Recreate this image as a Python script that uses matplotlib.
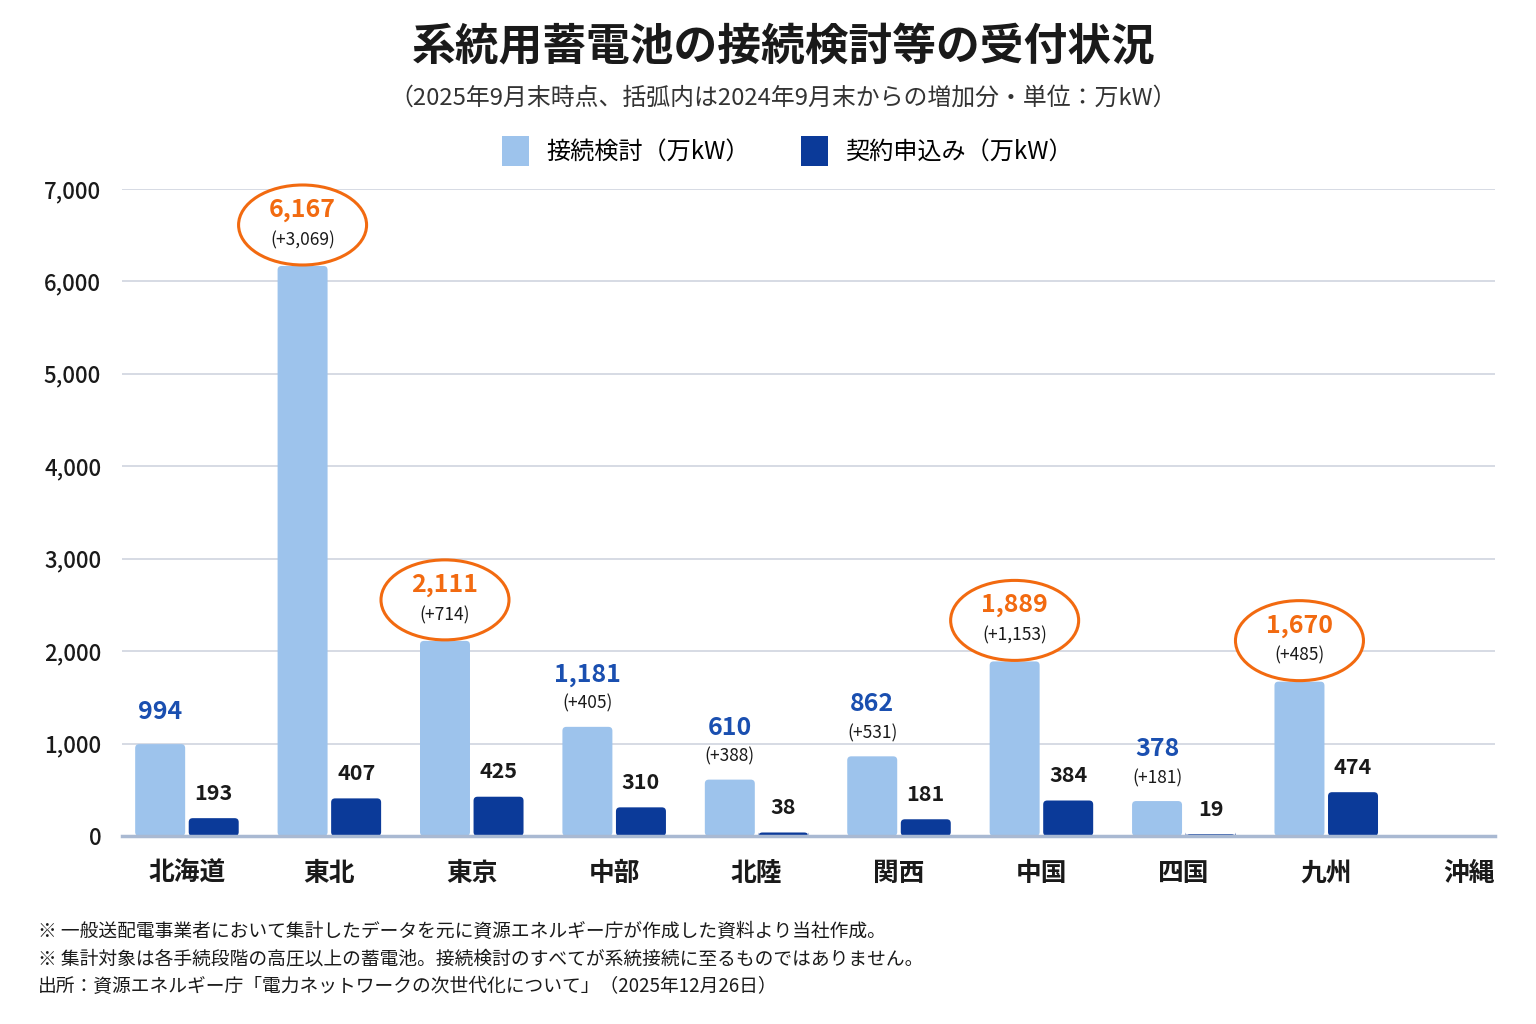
import matplotlib
matplotlib.use("Agg")
import matplotlib.pyplot as plt
from matplotlib.patches import Ellipse, Patch, FancyBboxPatch
from matplotlib.transforms import ScaledTranslation
from matplotlib.ticker import FuncFormatter, MultipleLocator
import numpy as np

plt.rcParams['font.family'] = ['Noto Sans CJK JP', 'DejaVu Sans']

# データ（万kW）
regions = ['北海道', '東北', '東京', '中部', '北陸', '関西', '中国', '四国', '九州', '沖縄']
kentou = [994, 6167, 2111, 1181, 610, 862, 1889, 378, 1670, 0]
moushikomi = [193, 407, 425, 310, 38, 181, 384, 19, 474, 0]
increase = [None, 3069, 714, 405, 388, 531, 1153, 181, 485, None]
highlight = ['東北', '東京', '中国', '九州']

LIGHT = '#9dc3ec'
DARK = '#0b3a99'
ORANGE = '#f26a10'
BLUE_TXT = '#1a4fb0'
INK = '#1a1a1a'

fig = plt.figure(figsize=(15.36, 10.24), dpi=100)
ax = fig.add_axes([122 / 1536, 1 - 836 / 1024, (1495 - 122) / 1536, (836 - 189) / 1024])

XMIN, XMAX, YMAX = -0.456, 9.185, 7000
ax.set_xlim(XMIN, XMAX)
ax.set_ylim(0, YMAX)

x = np.arange(len(regions))
w = 0.351
off = 0.188

# 角丸の棒
px_x = (XMAX - XMIN) / (1495 - 122)
px_y = YMAX / (836 - 189)


def rounded_bars(xs, hs, color):
    bars = ax.bar(xs, hs, w, color=color, zorder=3)
    for b in bars:
        if b.get_height() <= 0:
            b.remove()
            continue
        fb = FancyBboxPatch((b.get_x(), b.get_y()), b.get_width(), b.get_height(),
                            boxstyle=f'round,pad=0,rounding_size={4 * px_x}',
                            mutation_aspect=px_y / px_x, facecolor=color,
                            edgecolor='none', zorder=3)
        b.remove()
        ax.add_patch(fb)


rounded_bars(x - off, kentou, LIGHT)
rounded_bars(x + off, moushikomi, DARK)

# ラベル
for i, r in enumerate(regions):
    if kentou[i] <= 0:
        continue
    xl = x[i] - off
    val = f'{kentou[i]:,}'
    if r in highlight:
        trans = fig.dpi_scale_trans + ScaledTranslation(xl, kentou[i], ax.transData)
        ax.add_patch(Ellipse((0, 0.41), 1.28, 0.80, transform=trans, fill=True,
                             facecolor='white', edgecolor=ORANGE, lw=2.2,
                             zorder=5, clip_on=False))
        ax.annotate(val, (xl, kentou[i]), xytext=(0, 56), textcoords='offset pixels',
                    ha='center', va='center', fontsize=18, fontweight='bold',
                    color=ORANGE, zorder=6)
        ax.annotate(f'(+{increase[i]:,})', (xl, kentou[i]), xytext=(0, 26),
                    textcoords='offset pixels', ha='center', va='center',
                    fontsize=12.5, color=INK, zorder=6)
    elif increase[i] is None:
        ax.annotate(val, (xl, kentou[i]), xytext=(0, 32), textcoords='offset pixels',
                    ha='center', va='center', fontsize=18, fontweight='bold',
                    color=BLUE_TXT, zorder=6)
    else:
        ax.annotate(val, (xl, kentou[i]), xytext=(0, 52), textcoords='offset pixels',
                    ha='center', va='center', fontsize=18, fontweight='bold',
                    color=BLUE_TXT, zorder=6)
        ax.annotate(f'(+{increase[i]:,})', (xl, kentou[i]), xytext=(0, 23),
                    textcoords='offset pixels', ha='center', va='center',
                    fontsize=12.5, color=INK, zorder=6)

for i, r in enumerate(regions):
    if moushikomi[i] <= 0:
        continue
    ax.annotate(f'{moushikomi[i]:,}', (x[i] + off, moushikomi[i]), xytext=(0, 25),
                textcoords='offset pixels', ha='center', va='center',
                fontsize=15.5, fontweight='bold', color=INK, zorder=6)

# 軸
ax.yaxis.set_major_locator(MultipleLocator(1000))
ax.yaxis.set_major_formatter(FuncFormatter(lambda v, p: f'{int(v):,}'))
ax.grid(axis='y', color='#d3d8e2', lw=1.3, zorder=0)
ax.set_axisbelow(True)
for s in ['top', 'right', 'left']:
    ax.spines[s].set_visible(False)
ax.spines['bottom'].set_color('#a9b9d2')
ax.spines['bottom'].set_linewidth(2.5)
ax.spines['bottom'].set_zorder(4)
ax.set_xticks(x)
ax.set_xticklabels(regions, fontsize=18.5, fontweight='bold', color=INK)
ax.tick_params(axis='x', length=0, pad=17)
ax.tick_params(axis='y', length=0, pad=15, labelsize=16, labelcolor=INK)
for t in ax.get_yticklabels():
    t.set_fontweight('medium')

# タイトル
fig.text(0.51, 1 - 48 / 1024, '系統用蓄電池の接続検討等の受付状況', ha='center', va='center',
         fontsize=31.5, fontweight='bold', color=INK)
fig.text(0.51, 1 - 98 / 1024, '（2025年9月末時点、括弧内は2024年9月末からの増加分・単位：万kW）',
         ha='center', va='center', fontsize=17.2, color='#333333')

# 凡例
handles = [Patch(facecolor=LIGHT, label='接続検討（万kW）'),
           Patch(facecolor=DARK, label='契約申込み（万kW）')]
fig.legend(handles=handles, loc='center', bbox_to_anchor=(0.5125, 1 - 151 / 1024), ncol=2,
           frameon=False, fontsize=17.4, handlelength=1.15, handleheight=1.5,
           columnspacing=2.1, handletextpad=0.7)

# 注記
notes = ['※ 一般送配電事業者において集計したデータを元に資源エネルギー庁が作成した資料より当社作成。',
         '※ 集計対象は各手続段階の高圧以上の蓄電池。接続検討のすべてが系統接続に至るものではありません。',
         '出所：資源エネルギー庁「電力ネットワークの次世代化について」（2025年12月26日）']
for k, n in enumerate(notes):
    fig.text(38 / 1536, 1 - (931 + 27.5 * k) / 1024, n, ha='left', va='center',
             fontsize=13.5, color=INK)

fig.savefig('out.png', dpi=100, facecolor='white')
